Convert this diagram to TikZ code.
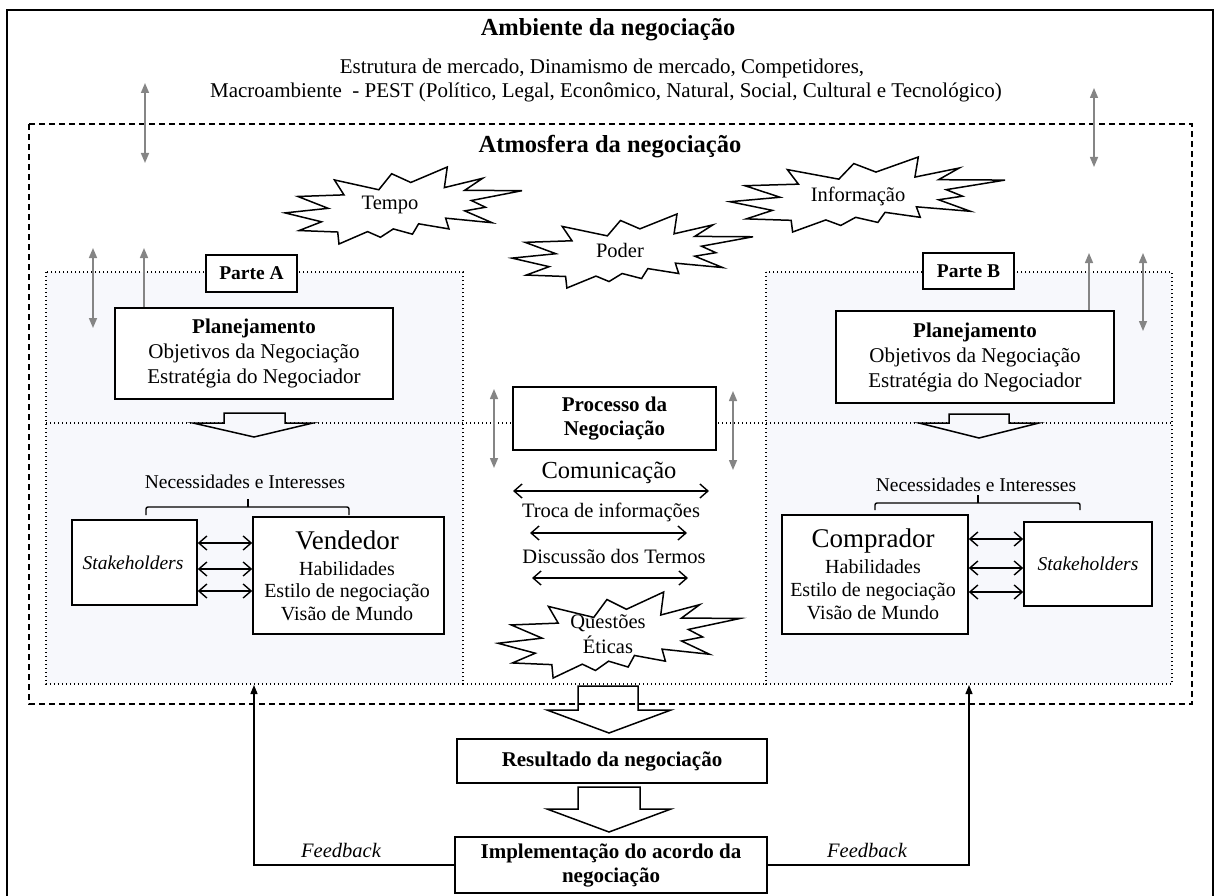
\documentclass[tikz,border=0pt]{standalone}
\usepackage{fontspec}
\setmainfont{Liberation Serif}
\usetikzlibrary{arrows.meta}
\definecolor{partfill}{HTML}{F7F8FC}
\definecolor{arrowgray}{HTML}{858585}
\newcommand\fsz[2]{\fontsize{#1}{#2}\selectfont}
% Irregular "explosion" outline, drawn in a 100 x 100 frame
\newcommand\explosion[4]{%
  \begin{scope}[shift={(#1,#2)},xscale=#3,yscale=#4]
    \filldraw[burst] (53.07,20.09) -- (45.01,8.74) -- (39.57,29.55) -- (20.85,16.79)
      -- (24.88,36.19) -- (5.44,38.29) -- (18.21,53.67) -- (0,59.61) -- (15.41,71.17)
      -- (5.94,82.52) -- (22.24,84.44) -- (22.77,100) -- (34.84,83.91) -- (40.27,91.26)
      -- (45.70,80.42) -- (53.77,87.24) -- (56.38,73.78) -- (69.18,80.42) -- (67.78,66.43)
      -- (87.40,72.37) -- (75.84,57.00) -- (84.58,52.28) -- (78.64,43.54) -- (100,30.77)
      -- (75.84,30.25) -- (83.36,14.69) -- (67.24,26.75) -- (68.47,0) -- cycle;
  \end{scope}}
\begin{document}
\begin{tikzpicture}[x=1pt,y=-1pt,
  every node/.style={inner sep=0pt},
  txt/.style={anchor=base, font=\fsz{21}{25}},
  box/.style={draw, line width=1.6pt, fill=white, align=center, font=\fsz{21}{24}},
  burst/.style={draw=black, fill=white, line width=1.5pt, line join=miter},
  dotline/.style={line width=1.4pt, dash pattern=on 1.4pt off 2.6pt},
  dashline/.style={line width=1.5pt, dash pattern=on 6pt off 4pt},
  grayarrow/.style={draw=arrowgray, line width=1.5pt,
    {Triangle[length=10pt,width=8pt]}-{Triangle[length=10pt,width=8pt]}},
  dblarrow/.style={line width=1.4pt,
    {Straight Barb[length=8pt,width=14pt]}-{Straight Barb[length=8pt,width=14pt]}},
  fbarrow/.style={line width=1.3pt, -{Triangle[length=9pt,width=7pt]}},
  blockarrow/.style={draw, line width=1.5pt, line join=miter},
  bracket/.style={line width=1.4pt, rounded corners=2pt}
]
\useasboundingbox (0,0) rectangle (1215,896);
\clip (0,0) rectangle (1215,896);

% outer frame (environment)
\draw[line width=1.6pt] (7,905) -- (7,10) -- (1213,10) -- (1213,905);

% titles and environment text
\node[txt, font=\fsz{24.5}{28}\bfseries] (amb) at (608,36) {Ambiente da negociação};
\node[txt] (amb1) at (602,74) {Estrutura de mercado, Dinamismo de mercado, Competidores,};
\node[txt] (amb2) at (606,98) {Macroambiente \ - PEST (Político, Legal, Econômico, Natural, Social, Cultural e Tecnológico)};

% party regions
\fill[partfill] (46,272) rectangle (463,684);
\fill[partfill] (766,272) rectangle (1172,684);
\draw[dotline] (46,272) rectangle (463,684);
\draw[dotline] (766,272) rectangle (1172,684);
\draw[dotline] (463,684) -- (766,684);
\draw[dotline] (46,423) -- (1172,423);

% atmosphere frame
\draw[dashline] (29,124) rectangle (1192,704);
\node[txt, font=\fsz{24.5}{28}\bfseries] (atm) at (610,153) {Atmosfera da negociação};

% gray double arrows
\draw[grayarrow] (145,83) -- (145,163);
\draw[grayarrow] (1094,88) -- (1094,167);
\draw[grayarrow] (93,248) -- (93,328);
\draw[grayarrow] (144,248) -- (144,328);
\draw[grayarrow] (1089,253) -- (1089,333);
\draw[grayarrow] (1143,253) -- (1143,331);
\draw[grayarrow] (494,389) -- (494,468);
\draw[grayarrow] (733,391) -- (733,470);

% bursts
\explosion{285}{167}{2.37}{0.77}
\explosion{512}{214}{2.41}{0.74}
\explosion{730}{157}{2.75}{0.75}
\explosion{498}{592}{2.42}{0.86}
\node[txt, font=\fsz{20.5}{24}] (tempo) at (390,210) {Tempo};
\node[txt, font=\fsz{20.5}{24}] (poder) at (620,257) {Poder};
\node[txt, font=\fsz{20.5}{24}] (info) at (858,202) {Informação};
\node[txt, font=\fsz{20.5}{24}] (quest1) at (608,628) {Questões};
\node[txt, font=\fsz{20.5}{24}] (quest2) at (608,653) {Éticas};

% party labels
\node[box, font=\fsz{19.5}{22}\bfseries, minimum width=91, minimum height=37] (parteA) at (251.5,273.5) {Parte A};
\node[box, font=\fsz{19.5}{22}\bfseries, minimum width=91, minimum height=36] (parteB) at (968.5,271) {Parte B};

% planning boxes
\node[box, font=\fsz{21}{25}, minimum width=278, minimum height=91] (planA) at (254,353.5)
  {\textbf{Planejamento}\\Objetivos da Negociação\\Estratégia do Negociador};
\node[box, font=\fsz{21}{25}, minimum width=278, minimum height=92] (planB) at (975,357)
  {\textbf{Planejamento}\\Objetivos da Negociação\\Estratégia do Negociador};

% planning block arrows
\filldraw[blockarrow, fill=partfill] (224,413) -- (285,413) -- (285,423) -- (313,423) -- (254,437)
  -- (193,423) -- (224,423) -- cycle;
\filldraw[blockarrow, fill=partfill] (949,414) -- (1009,414) -- (1009,423) -- (1039,423) -- (979,438)
  -- (919,423) -- (949,423) -- cycle;

% needs and interests
\node[txt, font=\fsz{19.5}{23}] (necA) at (245,488) {Necessidades e Interesses};
\node[txt, font=\fsz{19.5}{23}] (necB) at (976,491) {Necessidades e Interesses};
\draw[bracket] (146,515) -- (146,507) -- (349,507) -- (349,515);
\draw[line width=1.4pt] (248,507) -- (248,499);
\draw[bracket] (875,510) -- (875,503) -- (1080,503) -- (1080,510);
\draw[line width=1.4pt] (978,503) -- (978,495);

% party A actors
\node[box, minimum width=125, minimum height=85] (stA) at (134.5,562.5) {};
\node[txt, font=\fsz{19.5}{23}\itshape] (stAt) at (133,569) {Stakeholders};
\node[box, minimum width=191, minimum height=117] (vend) at (348.5,575.5) {};
\node[txt, font=\fsz{27}{30}] (vend1) at (347,549) {Vendedor};
\node[txt, font=\fsz{20}{23}] (vend2) at (347,575) {Habilidades};
\node[txt, font=\fsz{20}{23}] (vend3) at (347,597) {Estilo de negociação};
\node[txt, font=\fsz{20}{23}] (vend4) at (347,620) {Visão de Mundo};
\foreach \yy in {543,569,591}
  \draw[dblarrow] (stA.east |- 0,\yy) -- (vend.west |- 0,\yy);

% party B actors
\node[box, minimum width=186, minimum height=119] (comp) at (875,574.5) {};
\node[txt, font=\fsz{27}{30}] (comp1) at (873,547) {Comprador};
\node[txt, font=\fsz{20}{23}] (comp2) at (873,573) {Habilidades};
\node[txt, font=\fsz{20}{23}] (comp3) at (873,596) {Estilo de negociação};
\node[txt, font=\fsz{20}{23}] (comp4) at (873,619) {Visão de Mundo};
\node[box, minimum width=128, minimum height=84] (stB) at (1088,564) {};
\node[txt, font=\fsz{19.5}{23}\itshape] (stBt) at (1088,570) {Stakeholders};
\foreach \yy in {539,568,592}
  \draw[dblarrow] (comp.east |- 0,\yy) -- (stB.west |- 0,\yy);

% negotiation process
\node[box, font=\fsz{21}{24}\bfseries, minimum width=203, minimum height=63] (proc) at (614.5,418.5)
  {Processo da\\Negociação};
\node[txt, font=\fsz{24.5}{28}] (com) at (609,478) {Comunicação};
\coordinate (c1l) at (513,491); \coordinate (c1r) at (709,491);
\draw[dblarrow] (c1l) -- (c1r);
\node[txt, font=\fsz{20.5}{24}] (troca) at (611,517) {Troca de informações};
\coordinate (c2l) at (530,533); \coordinate (c2r) at (687,533);
\draw[dblarrow] (c2l) -- (c2r);
\node[txt, font=\fsz{20.5}{24}] (disc) at (614,563) {Discussão dos Termos};
\coordinate (c3l) at (532,578); \coordinate (c3r) at (688,578);
\draw[dblarrow] (c3l) -- (c3r);

% outcome chain
\draw[blockarrow] (578,686) -- (638,686) -- (638,710) -- (671,710) -- (609,733) -- (547,710)
  -- (578,710) -- cycle;
\node[box, font=\fsz{21}{24}\bfseries, minimum width=310, minimum height=44] (res) at (612,761)
  {Resultado da negociação};
\draw[blockarrow] (578,787) -- (640,787) -- (640,809) -- (671,809) -- (609,832) -- (547,809)
  -- (578,809) -- cycle;
\node[box, font=\fsz{21}{24}\bfseries, minimum width=312, minimum height=56] (impl) at (611,865)
  {Implementação do acordo da\\negociação};

% feedback loops
\coordinate (fbA) at (254,685);
\coordinate (fbB) at (969,685);
\draw[fbarrow] (impl.west) -| (fbA);
\draw[fbarrow] (impl.east) -| (fbB);
\node[txt, font=\fsz{20.5}{24}\itshape] (fbAt) at (341,857) {Feedback};
\node[txt, font=\fsz{20.5}{24}\itshape] (fbBt) at (867,857) {Feedback};
\end{tikzpicture}
\end{document}
